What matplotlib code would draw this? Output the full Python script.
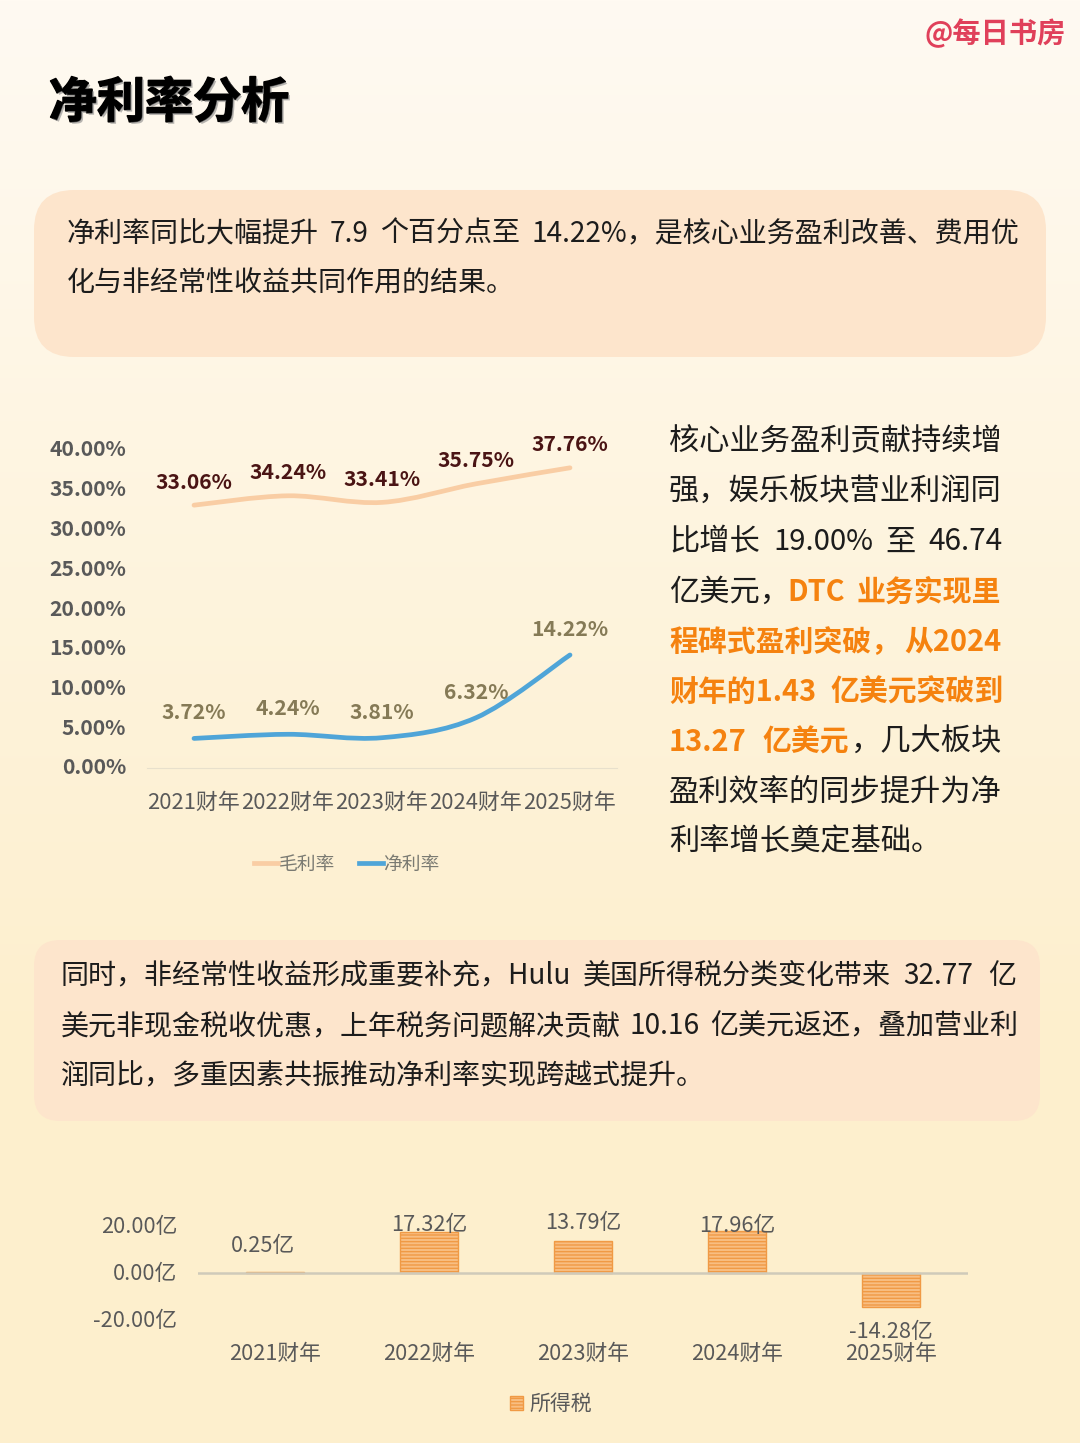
import numpy as np
import matplotlib
matplotlib.use('Agg')
import matplotlib.pyplot as plt
import matplotlib.patheffects as pe
from matplotlib.lines import Line2D
from matplotlib.patches import FancyBboxPatch, PathPatch, Patch
from matplotlib.path import Path
from matplotlib.transforms import ScaledTranslation

plt.rcParams['font.family'] = ['Noto Sans CJK SC', 'DejaVu Sans']
plt.rcParams['hatch.linewidth'] = 1.0

W = 1080
H = 1443

years = ['2021财年', '2022财年', '2023财年', '2024财年', '2025财年']
gross_margin = [33.06, 34.24, 33.41, 35.75, 37.76]
net_margin = [3.72, 4.24, 3.81, 6.32, 14.22]
margin_ticks = [0, 5, 10, 15, 20, 25, 30, 35, 40]
income_tax = [0.25, 17.32, 13.79, 17.96, -14.28]
tax_ticks = [-20, 0, 20]

BLACK = '#1c1c1c'
ORANGE = '#F5820F'
GRAY = '#595959'


def px_axes(left, top, right, bottom):
    return fig.add_axes([left / W, 1 - bottom / H, (right - left) / W, (bottom - top) / H])


def smooth_path(xs, ys):
    # catmull-rom through the points, close to the office "smooth line"
    verts = [(xs[0], ys[0])]
    codes = [Path.MOVETO]
    n = len(xs)
    for i in range(n - 1):
        i0 = max(i - 1, 0)
        i3 = min(i + 2, n - 1)
        verts.append((xs[i] + (xs[i + 1] - xs[i0]) / 6, ys[i] + (ys[i + 1] - ys[i0]) / 6))
        verts.append((xs[i + 1] - (xs[i3] - xs[i]) / 6, ys[i + 1] - (ys[i3] - ys[i]) / 6))
        verts.append((xs[i + 1], ys[i + 1]))
        codes += [Path.CURVE4, Path.CURVE4, Path.CURVE4]
    return Path(verts, codes)


def nudge_ticks(labels, dy_px):
    # has to come after tick_params, which resets the label transforms
    for lab in labels:
        lab.set_transform(lab.get_transform() + ScaledTranslation(0, dy_px / 100, fig.dpi_scale_trans))


fig = plt.figure(figsize=(W / 100, H / 100), dpi=100)

# background, in pixel coordinates
bg = fig.add_axes([0, 0, 1, 1])
top_col = np.array([255, 250, 242]) / 255
bot_col = np.array([253, 239, 205]) / 255
t = np.clip(np.linspace(0, 1, H) / 0.72, 0, 1)[:, None, None]
grad = top_col[None, None, :] * (1 - t) + bot_col[None, None, :] * t
bg.imshow(grad, extent=[0, W, H, 0], aspect='auto', zorder=0)
bg.set_xlim(0, W)
bg.set_ylim(H, 0)
bg.axis('off')

for (x0, y0, x1, y1, r) in [(34, 190, 1046, 357, 40), (34, 940, 1040, 1121, 26)]:
    bg.add_patch(FancyBboxPatch((x0 + r, y0 + r), x1 - x0 - 2 * r, y1 - y0 - 2 * r,
                                boxstyle='round,pad=%d,rounding_size=%d' % (r, r),
                                fc='#FDE5CC', ec='none', zorder=1))

bg.text(49, 103, '净利率分析', fontsize=34.6, fontweight='bold', color='black', va='center', zorder=3,
        path_effects=[pe.withStroke(linewidth=1.2, foreground='black'),
                      pe.withSimplePatchShadow(offset=(1.5, -1.5), shadow_rgbFace='#888888', alpha=0.6),
                      pe.Normal()])
bg.text(1066, 33, '@每日书房', fontsize=20.3, fontweight='bold', color='#E0405A', va='center', ha='right', zorder=3)

# body text: (x, y, string, colour, bold, size)
body = [
    (67, 234, '净利率同比大幅提升', BLACK, False, 20.2),
    (330, 234, '7.9', BLACK, False, 20.2),
    (380, 234, '个百分点至', BLACK, False, 20.2),
    (532, 234, '14.22%，是核心业务盈利改善、费用优', BLACK, False, 20.2),
    (67, 284, '化与非经常性收益共同作用的结果。', BLACK, False, 20.2),
    (669, 442, '核心业务盈利贡献持续增', BLACK, False, 21.8),
    (669, 492, '强，娱乐板块营业利润同', BLACK, False, 21.8),
    (669, 542, '比增长', BLACK, False, 21.8),
    (773, 542, '19.00%', BLACK, False, 21),
    (885, 542, '至', BLACK, False, 21.8),
    (928, 542, '46.74', BLACK, False, 21.4),
    (669, 592, '亿美元，', BLACK, False, 21.8),
    (787, 592, 'DTC', ORANGE, True, 20.8),
    (857, 592, '业务实现里', ORANGE, True, 20.8),
    (669, 642, '程碑式盈利突破，', ORANGE, True, 20.8),
    (904, 642, '从2024', ORANGE, True, 20.8),
    (669, 692, '财年的1.43', ORANGE, True, 20.8),
    (830, 692, '亿美元突破到', ORANGE, True, 20.8),
    (669, 742, '13.27', ORANGE, True, 20.8),
    (762, 742, '亿美元', ORANGE, True, 20.8),
    (851, 742, '，几大板块', BLACK, False, 21.8),
    (669, 792, '盈利效率的同步提升为净', BLACK, False, 21.8),
    (669, 842, '利率增长奠定基础。', BLACK, False, 21.8),
    (61, 976, '同时，非经常性收益形成重要补充，Hulu', BLACK, False, 20.2),
    (583, 976, '美国所得税分类变化带来', BLACK, False, 20.2),
    (903, 976, '32.77', BLACK, False, 20.2),
    (988, 976, '亿', BLACK, False, 20.2),
    (61, 1026, '美元非现金税收优惠，上年税务问题解决贡献', BLACK, False, 20.2),
    (629, 1026, '10.16', BLACK, False, 20.2),
    (710, 1026, '亿美元返还，叠加营业利', BLACK, False, 20.2),
    (61, 1076, '润同比，多重因素共振推动净利率实现跨越式提升。', BLACK, False, 20.2),
]
for x, y, s, c, b, size in body:
    bg.text(x, y, s, fontsize=size, color=c, fontweight='bold' if b else 'normal', va='center', zorder=3)

# line chart
ax1 = px_axes(147, 450, 617, 768)
ax1.patch.set_alpha(0)
xs = np.arange(len(years))
ax1.add_patch(PathPatch(smooth_path(xs, gross_margin), fc='none', ec='#F9CDA4', lw=3.4, capstyle='round', clip_on=False))
ax1.add_patch(PathPatch(smooth_path(xs, net_margin), fc='none', ec='#4FA5D8', lw=3.4, capstyle='round', clip_on=False))
ax1.set_xlim(-0.5, 4.5)
ax1.set_ylim(0, 40)
ax1.set_xticks(xs)
ax1.set_xticklabels(years, fontsize=15.8, color=GRAY)
ax1.set_yticks(margin_ticks)
ax1.set_yticklabels(['%.2f%%' % v for v in margin_ticks], fontsize=15.2, color=GRAY, fontweight='bold')
ax1.tick_params(axis='both', length=0)
ax1.tick_params(axis='y', pad=15)
ax1.tick_params(axis='x', pad=17.5)
nudge_ticks(ax1.get_yticklabels(), 2)
for s in ['top', 'left', 'right']:
    ax1.spines[s].set_visible(False)
ax1.spines['bottom'].set_color('#E8E0CC')
ax1.spines['bottom'].set_linewidth(0.8)
for i in xs:
    ax1.annotate('%.2f%%' % gross_margin[i], (i, gross_margin[i]), xytext=(0, 16.5), textcoords='offset points',
                 ha='center', va='center', fontsize=15.2, fontweight='bold', color='#4A1414')
    ax1.annotate('%.2f%%' % net_margin[i], (i, net_margin[i]), xytext=(0, 18.5), textcoords='offset points',
                 ha='center', va='center', fontsize=15.2, fontweight='bold', color='#857A56')
leg1 = fig.legend(handles=[Line2D([], [], color='#F9CDA4', lw=3.4, label='毛利率'),
                           Line2D([], [], color='#4FA5D8', lw=3.4, label='净利率')],
                  loc='center', bbox_to_anchor=(347 / W, 1 - 864 / H), ncol=2, frameon=False,
                  fontsize=13.5, handlelength=1.25, handletextpad=0.05, columnspacing=1.3,
                  labelcolor='#7a7a72')

# bar chart
ax2 = px_axes(198, 1226, 968, 1320)
ax2.patch.set_alpha(0)
ax2.bar(xs, income_tax, width=0.375, facecolor='#F8BE82', edgecolor='#F09A45', hatch='-----', lw=1.0)
ax2.set_xlim(-0.5, 4.5)
ax2.set_ylim(-20, 20)
ax2.set_xticks(xs)
ax2.set_xticklabels(years, fontsize=15.7, color=GRAY)
ax2.set_yticks(tax_ticks)
ax2.set_yticklabels(['%.2f亿' % v for v in tax_ticks], fontsize=15.7, color=GRAY)
ax2.tick_params(axis='both', length=0)
ax2.tick_params(axis='y', pad=15)
ax2.tick_params(axis='x', pad=16.5)
nudge_ticks(ax2.get_yticklabels(), 1.5)
for s in ax2.spines.values():
    s.set_visible(False)
ax2.axhline(0, color='#CFCABA', lw=1.8, zorder=3)
tax_label_offsets = [(-9, 19), (0, 5), (0, 12.5), (0, 3.5), (0, -18.5)]
for i in xs:
    ax2.annotate('%.2f亿' % income_tax[i], (i, income_tax[i]), xytext=tax_label_offsets[i], textcoords='offset points',
                 ha='center', va='center', fontsize=15.7, color=GRAY, annotation_clip=False)
leg2 = fig.legend(handles=[Patch(facecolor='#F8BE82', edgecolor='#F09A45', hatch='-----', label='所得税')],
                  loc='center', bbox_to_anchor=(551 / W, 1 - 1404 / H), frameon=False,
                  fontsize=15, handlelength=0.65, handleheight=0.65, handletextpad=0.3,
                  labelcolor=GRAY)

fig.savefig('out.png', dpi=100)
